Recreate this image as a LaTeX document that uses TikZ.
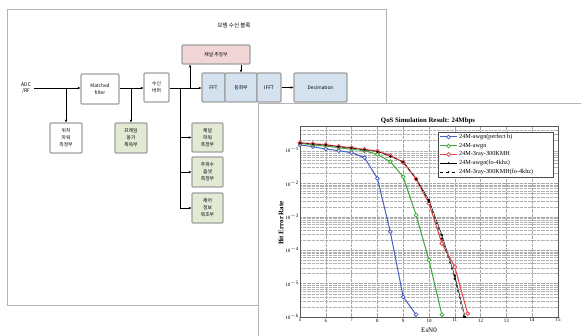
\documentclass[tikz,border=0pt]{standalone}
\usepackage{fontspec}
\setmainfont{Liberation Serif}
\newfontfamily\kr{Noto Sans CJK KR}
\usetikzlibrary{arrows.meta,calc}
\definecolor{bxb}{HTML}{A0A0A0}
\definecolor{pnl}{HTML}{B4B4B4}
\definecolor{gfill}{HTML}{E2EAD4}
\definecolor{pfill}{HTML}{F2D5D5}
\definecolor{bfill}{HTML}{D4E1EE}
\definecolor{cblue}{HTML}{4A5EC4}
\definecolor{cgreen}{HTML}{3CA83C}
\definecolor{cred}{HTML}{E84448}
\begin{document}
\begin{tikzpicture}[x=1pt,y=-1pt,
  box/.style={draw=bxb,line width=1.1pt,rounded corners=1pt,inner sep=0pt,align=center,
     font=\kr\fontsize{4.8}{6.8}\selectfont,fill=white},
  arr/.style={-{Stealth[length=3pt,width=2.4pt]},line width=0.7pt},
  ln/.style={line width=0.7pt},
  gridl/.style={gray!70,line width=0.3pt,densely dotted},
  minorl/.style={gray!60,line width=0.3pt,densely dotted},
  tick/.style={font=\fontsize{5}{5}\selectfont},
  leg/.style={anchor=west,font=\fontsize{6.2}{6.2}\selectfont,inner sep=0pt},
  ocurve/.style={#1,line width=1pt,mark=*,mark size=1.9pt,mark options={fill=white,draw=#1,line width=0.8pt}},
  kcurve/.style={black,line width=0.45pt,mark=*,mark size=0.9pt},
]
\useasboundingbox (0,0) rectangle (581,336);
\fill[white] (0,0) rectangle (581,336);
% left panel
\draw[pnl,line width=0.8pt] (7,9) rectangle (386,305);
\node[font=\kr\fontsize{5.5}{6}\selectfont] (title) at (234,25) {모뎀 수신 블록};

% blocks
\node[font=\kr\fontsize{5}{5.6}\selectfont,align=center,inner sep=0pt] (adc) at (26,88) {ADC\\/RF};
\node[box,minimum width=38pt,minimum height=30pt] (mf) at (100,89) {Matched\\filter};
\node[box,minimum width=25pt,minimum height=29pt] (rx) at (156.5,87.5) {수신\\버퍼};
\node[box,minimum width=32pt,minimum height=30pt] (pw) at (66,138) {위치\\파워\\측정부};
\node[box,fill=gfill,minimum width=32pt,minimum height=30pt] (fs) at (131,138) {프레임\\동기\\획득부};
\node[box,fill=pfill,minimum width=68pt,minimum height=19pt] (ce) at (216,54.5) {채널 추정부};
\node[box,fill=bfill,minimum width=23pt,minimum height=29pt] (fft) at (213.5,87.5) {FFT};
\node[box,fill=bfill,minimum width=32pt,minimum height=29pt] (eq) at (241,87.5) {등화부};
\node[box,fill=bfill,minimum width=24pt,minimum height=29pt] (ifft) at (269,87.5) {IFFT};
\node[box,fill=bfill,minimum width=53pt,minimum height=29pt] (dec) at (320.5,87.5) {Decimation};
\node[box,fill=gfill,minimum width=31pt,minimum height=29pt] (s1) at (207.5,137.5) {채널\\파워\\측정부};
\node[box,fill=gfill,minimum width=31pt,minimum height=30pt] (s2) at (207.5,172) {주파수\\옵셋\\측정부};
\node[box,fill=gfill,minimum width=31pt,minimum height=30pt] (s3) at (207.5,208) {제어\\정보\\복조부};

% connectors
\coordinate (j1) at (66,88);
\coordinate (j2) at (131,88);
\coordinate (j3) at (180,88);
\coordinate (j4) at (190,88);
\draw[arr] ([xshift=3pt]adc.east |- j1) -- (mf.west |- j1);
\draw[arr] (j1) -- (pw.north);
\draw[arr] (mf.east |- j2) -- (rx.west |- j2);
\draw[arr] (j2) -- (fs.north);
\draw[arr] (rx.east |- j3) -- (fft.west |- j3);
\draw[ln] (j3) -- (j3 |- s3.west);
\draw[arr] (j3 |- s1.west) -- (s1.west);
\draw[arr] (j3 |- s2.west) -- (s2.west);
\draw[arr] (j3 |- s3.west) -- (s3.west);
\draw[arr] (j4) -- (j4 |- ce.south);
\draw[arr] (ce.south -| eq.north) -- (eq.north);
\draw[arr] (ifft.east) -- (dec.west);

% right panel
\fill[white] (258,103) rectangle (581,336);
\draw[pnl,line width=0.8pt] (258,336) -- (258,103) -- (581,103);

% chart
\node[font=\bfseries\fontsize{6.8}{7}\selectfont] (ctitle) at (428,121) {QoS Simulation Result: 24Mbps};
\node[font=\bfseries\fontsize{7}{7}\selectfont,rotate=90] (ylab) at (281,223) {Bit Error Rate};
\node[font=\fontsize{7}{7}\selectfont] (xlab) at (429,330) {EsN0};
\begin{scope}[shift={(171,150)},x=25.8pt,y=-33.4pt]
  \foreach \k in {0,...,4}{
    \foreach \m in {2,...,9}{
      \draw[minorl] (5,{\k+1-log10(\m)}) -- (15,{\k+1-log10(\m)});
    }
  }
  \foreach \m in {2,3,4}{
    \draw[minorl] (5,{-log10(\m)}) -- (15,{-log10(\m)});
  }
  \foreach \e in {6,...,14} \draw[gridl] (\e,-0.699) -- (\e,5);
  \foreach \k in {1,...,4} \draw[gridl] (5,\k) -- (15,\k);
  \draw[gray!70!black,line width=0.5pt] (5,-0.699) rectangle (15,5);
  \foreach \k [evaluate=\k as \n using int(\k+1)] in {0,...,5}
    \node[tick,anchor=east,inner sep=1pt] at (5,\k) {10\textsuperscript{$-$\n}};
  \foreach \e in {5,...,15}
    \node[tick,anchor=north,inner sep=1.5pt] at (\e,5) {\e};
  % curves
  \draw[kcurve]
    plot coordinates {(5,-0.2) (5.5,-0.17) (6,-0.14) (6.5,-0.1) (7,-0.06) (7.5,-0.01) (8,0.04) (8.5,0.18) (9,0.35) (9.5,0.85) (10,1.5) (10.5,2.55) (11,3.77) (11.4,5.0)};
  \draw[ocurve=cblue]
    plot coordinates {(5,-0.15) (5.5,-0.1) (6,-0.03) (6.5,0.02) (7,0.08) (7.5,0.23) (8,0.85) (8.5,2.45) (9,4.4) (9.5,4.93)};
  \draw[ocurve=cgreen]
    plot coordinates {(5,-0.2) (5.5,-0.15) (6,-0.12) (6.5,-0.07) (7,-0.02) (7.5,0.02) (8,0.13) (8.5,0.35) (9,0.8) (9.5,1.95) (10,3.3) (10.5,4.93)};
  \draw[ocurve=cred]
    plot coordinates {(5,-0.22) (5.5,-0.19) (6,-0.16) (6.5,-0.11) (7,-0.07) (7.5,-0.02) (8,0.03) (8.5,0.16) (9,0.37) (9.5,0.87) (10,1.6) (10.5,2.8) (11,3.5) (11.5,4.9)};
  \draw[kcurve,dashed,mark options={solid}]
    plot coordinates {(5,-0.21) (5.5,-0.18) (6,-0.15) (6.5,-0.1) (7,-0.06) (7.5,-0.01) (8,0.05) (8.5,0.19) (9,0.36) (9.5,0.87) (10,1.55) (10.5,2.65) (11,3.85) (11.35,5.0)};
\end{scope}

% legend
\draw[black!70,line width=0.4pt,fill=white] (438,132) rectangle (553,177);
\coordinate (l1) at (440,137);
\coordinate (l2) at (440,146);
\coordinate (l3) at (440,154.5);
\coordinate (l4) at (440,163);
\coordinate (l5) at (440,172);
\draw[cblue,line width=1pt] (l1) -- ++(17,0);
\draw[cblue,line width=0.8pt,fill=white] ($(l1)+(8.5,0)$) circle (1.9pt);
\draw[cgreen,line width=1pt] (l2) -- ++(17,0);
\draw[cgreen,line width=0.8pt,fill=white] ($(l2)+(8.5,0)$) circle (1.9pt);
\draw[cred,line width=1pt] (l3) -- ++(17,0);
\draw[cred,line width=0.8pt,fill=white] ($(l3)+(8.5,0)$) circle (1.9pt);
\draw[black,line width=0.45pt] (l4) -- ++(17,0);
\fill[black] ($(l4)+(8.5,0)$) circle (0.9pt);
\draw[black,line width=0.45pt,dashed] (l5) -- ++(17,0);
\fill[black] ($(l5)+(8.5,0)$) circle (0.9pt);
\node[leg] (t1) at (459,137) {24M-awgn(perfect h)};
\node[leg] (t2) at (459,146) {24M-awgn};
\node[leg] (t3) at (459,154.5) {24M-3ray-300KMH};
\node[leg] (t4) at (459,163) {24M-awgn(fo-4khz)};
\node[leg] (t5) at (459,172) {24M-3ray-300KMH(fo-4khz)};
\end{tikzpicture}
\end{document}
